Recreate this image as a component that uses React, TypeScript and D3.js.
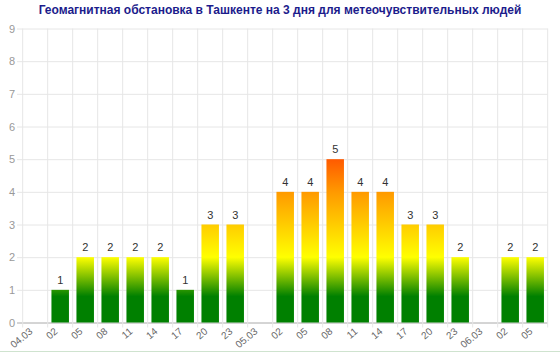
import React from "react";
import * as d3 from "d3";

// Kp index by 3-hour interval, three days
const categories = [
  "04.03", "02", "05", "08", "11", "14", "17", "20", "23",
  "05.03", "02", "05", "08", "11", "14", "17", "20", "23",
  "06.03", "02", "05",
];
const kpValues: (number | null)[] = [
  null, 1, 2, 2, 2, 2, 1, 3, 3,
  null, 4, 4, 5, 4, 4, 3, 3, 2,
  null, 2, 2,
];
const yTicks = [0, 1, 2, 3, 4, 5, 6, 7, 8, 9];
// colour by value (absolute, not per bar)
const gradientStops = [
  { value: 0, color: "#008000" },
  { value: 0.8, color: "#008000" },
  { value: 2, color: "#ffff00" },
  { value: 4, color: "#ff9900" },
  { value: 5, color: "#ff5a00" },
];

const WIDTH = 560;
const HEIGHT = 353;
const PLOT_LEFT = 22.7;
const PLOT_RIGHT = 547.7;
const PLOT_TOP = 28.5;
const PLOT_BOTTOM = 322.5;

export default function App() {
  const idx = categories.map((_, i) => i);
  const x = d3
    .scaleBand<number>()
    .domain(idx)
    .range([PLOT_LEFT, PLOT_RIGHT])
    .paddingInner(0.3)
    .paddingOuter(0.15);
  const y = d3.scaleLinear().domain([0, 9]).range([PLOT_BOTTOM, PLOT_TOP]);
  const band = (PLOT_RIGHT - PLOT_LEFT) / categories.length;

  return (
    <svg
      width={WIDTH}
      height={HEIGHT}
      style={{ position: "absolute", left: 0, top: 0, display: "block" }}
      fontFamily="Arial, 'Liberation Sans', sans-serif"
    >
      <defs>
        <linearGradient
          id="kpGrad"
          gradientUnits="userSpaceOnUse"
          x1={0}
          x2={0}
          y1={y(0)}
          y2={y(5)}
        >
          {gradientStops.map((s, i) => (
            <stop key={i} offset={s.value / 5} stopColor={s.color} />
          ))}
        </linearGradient>
      </defs>
      <rect width={WIDTH} height={HEIGHT} fill="#fff" />

      <text
        x={280}
        y={14}
        textAnchor="middle"
        fontSize={12}
        fontWeight="bold"
        fill="#1c1c8c"
      >
        Геомагнитная обстановка в Ташкенте на 3 дня для метеочувствительных людей
      </text>

      {/* horizontal grid */}
      {yTicks.map((t) => (
        <g key={t}>
          <line
            x1={17}
            x2={PLOT_RIGHT}
            y1={y(t) + 0.5}
            y2={y(t) + 0.5}
            stroke={t === 0 ? "#aaa" : "#e6e6e6"}
          />
          <text
            x={15}
            y={y(t) + 4}
            textAnchor="end"
            fontSize={11}
            fill="#999"
          >
            {t}
          </text>
        </g>
      ))}

      {/* vertical grid */}
      {d3.range(categories.length + 1).map((i) => (
        <line
          key={i}
          x1={PLOT_LEFT + i * band}
          x2={PLOT_LEFT + i * band}
          y1={PLOT_TOP}
          y2={PLOT_BOTTOM + 5}
          stroke="#e6e6e6"
        />
      ))}

      {/* bars */}
      {kpValues.map((v, i) =>
        v == null ? null : (
          <g key={i}>
            <rect
              x={x(i)!}
              y={y(v)}
              width={x.bandwidth()}
              height={y(0) - y(v)}
              fill="url(#kpGrad)"
            />
            <text
              x={x(i)! + x.bandwidth() / 2}
              y={y(v) - 6}
              textAnchor="middle"
              fontSize={11}
              fill="#333"
            >
              {v}
            </text>
          </g>
        )
      )}

      {/* x labels */}
      {categories.map((c, i) => (
        <text
          key={i}
          transform={`translate(${PLOT_LEFT + (i + 0.5) * band - 2},${PLOT_BOTTOM + 10}) rotate(-40)`}
          textAnchor="end"
          fontSize={10}
          fill="#666"
        >
          {c}
        </text>
      ))}

      <line x1={0} x2={WIDTH} y1={351.5} y2={351.5} stroke="#cfe3cf" />
    </svg>
  );
}
